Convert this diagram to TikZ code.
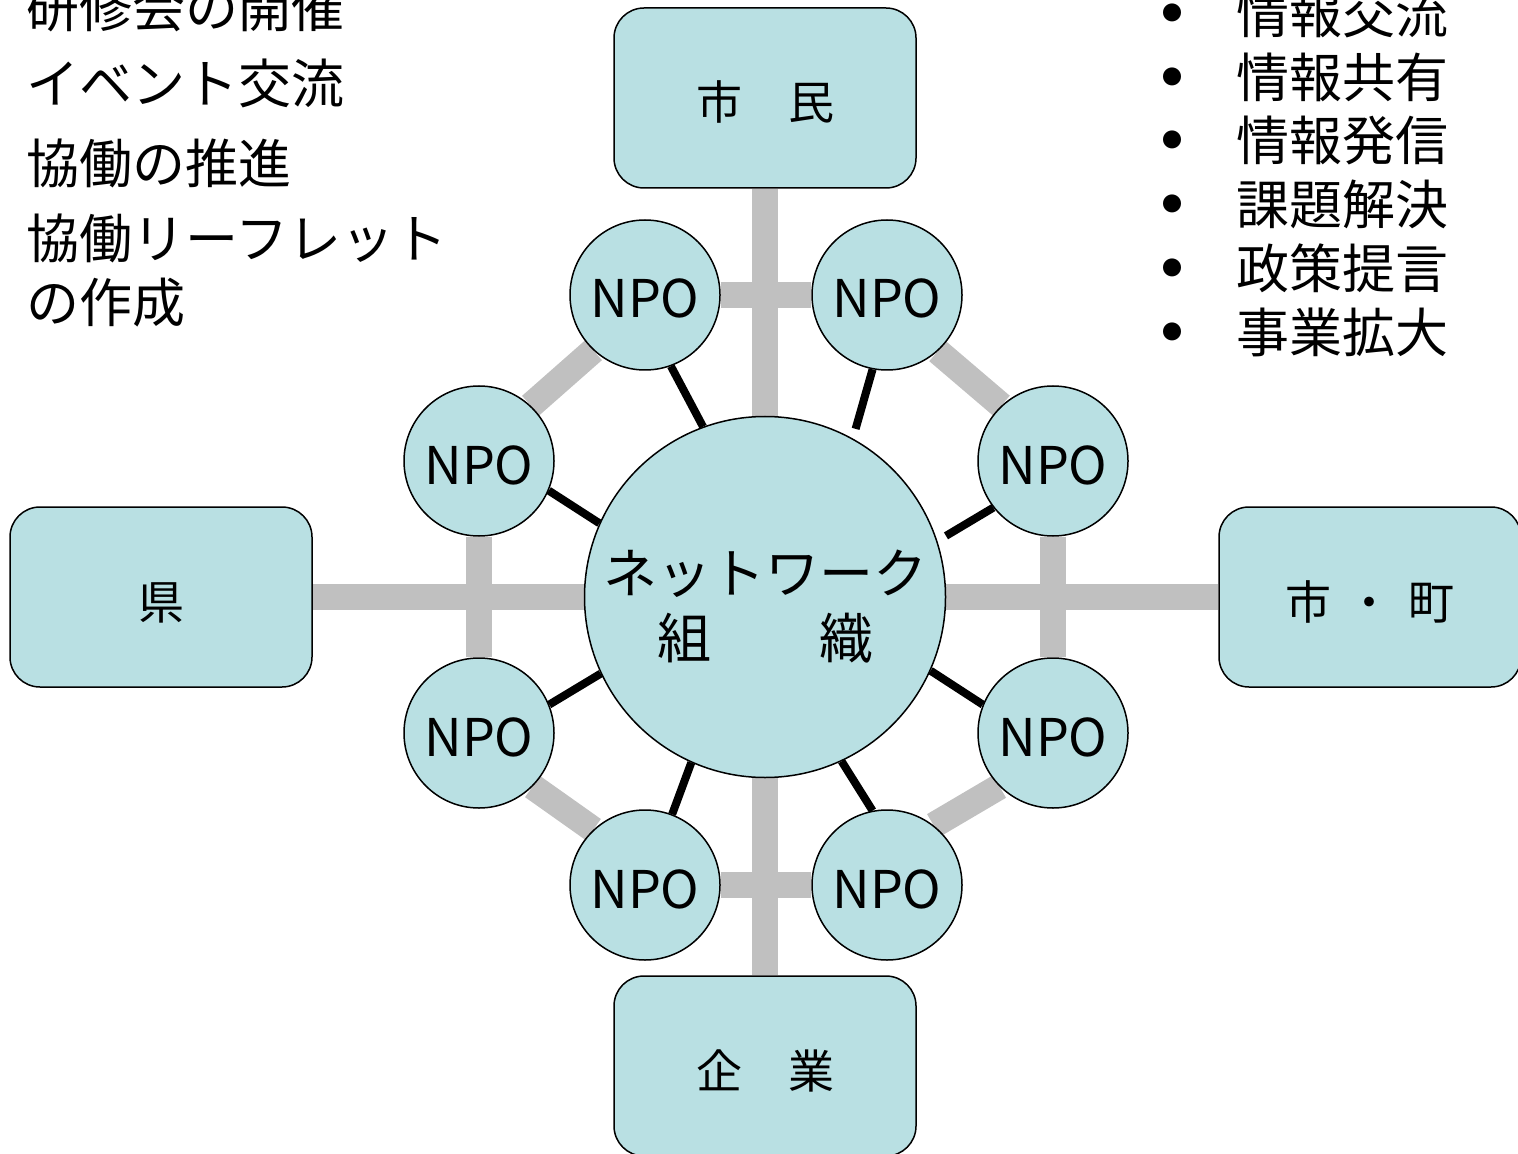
\documentclass[tikz,border=0pt]{standalone}
\usepackage{fontspec}
\setmainfont{Noto Sans CJK JP}
\usetikzlibrary{backgrounds}
\definecolor{paleblue}{RGB}{185,224,227}
\definecolor{linkgray}{RGB}{192,192,192}
\tikzset{
  npo/.style={circle, draw, fill=paleblue, line width=0.75pt, minimum size=75pt, inner sep=0pt, text height=23pt, text depth=0pt, font=\fontsize{26}{30}\selectfont},
  hub/.style={circle, draw, fill=paleblue, line width=0.75pt, minimum size=180.5pt, inner sep=0pt, align=center, font=\fontsize{27}{32.5}\selectfont},
  party/.style={rectangle, rounded corners=15pt, draw, fill=paleblue, line width=0.75pt, minimum width=151pt, minimum height=90pt, text height=22pt, text depth=0pt, font=\fontsize{23}{28}\selectfont},
  memo/.style={anchor=west, inner sep=0pt, font=\fontsize{26.5}{32}\selectfont},
  bulletmark/.style={inner sep=0pt, font=\fontsize{10}{12}\selectfont},
  tie/.style={draw=linkgray, line width=13pt},
  spoke/.style={draw, line width=4pt},
}

\begin{document}
\begin{tikzpicture}[x=0.5pt, y=-0.5pt]
        \useasboundingbox (0,0) rectangle (1518,1154);

        \node[hub]   (hub)    at (765,597)  {\rule{0pt}{31pt}ネットワーク\\組　　織};
        \node[party] (shimin) at (765,98)   {市　民};
        \node[party] (kigyo)  at (765,1066) {企　業};
        \node[party] (ken)    at (161,597)  {県};
        \node[party] (shicho) at (1370,597) {市\hspace{8pt}・\hspace{8pt}町};

        \node[npo] (npoTL) at (645,295)  {NPO};
        \node[npo] (npoTR) at (887,295)  {NPO};
        \node[npo] (npoLU) at (479,461)  {NPO};
        \node[npo] (npoRU) at (1053,461) {NPO};
        \node[npo] (npoLL) at (479,733)  {NPO};
        \node[npo] (npoRL) at (1053,733) {NPO};
        \node[npo] (npoBL) at (645,885)  {NPO};
        \node[npo] (npoBR) at (887,885)  {NPO};

        % gray ties behind the circles
        \begin{pgfonlayer}{background}
          \draw[tie] (shimin) -- (hub);
          \draw[tie] (hub) -- (kigyo);
          \draw[tie] (ken) -- (hub);
          \draw[tie] (hub) -- (shicho);
          \draw[tie] (npoTL) -- (npoTR);
          \draw[tie] (npoBL) -- (npoBR);
          \draw[tie] (npoLU) -- (npoLL);
          \draw[tie] (npoRU) -- (npoRL);
          \draw[tie] (npoTL.227) -- (npoLU.47);
          \draw[tie] (npoTR.-48) -- (npoRU.133);
          \draw[tie] (npoLL.-45) -- (npoBL.133);
          \draw[tie] (npoRL.225) -- (npoBR.52);
        \end{pgfonlayer}

        \draw[spoke] (npoTL.-70) -- (hub.110);
        \draw[spoke, shorten >=5pt] (npoTR.259) -- (hub.61);
        \draw[spoke] (npoLU.-23) -- (hub.156);
        \draw[spoke, shorten >=5pt] (npoRU.218) -- (hub.18);
        \draw[spoke] (npoLL.22) -- (hub.205);
        \draw[spoke] (npoRL.158) -- (hub.-24);
        \draw[spoke] (npoBL.69) -- (hub.246);
        \draw[spoke] (npoBR.101) -- (hub.-65);

        \node[memo] (act1) at (26,7)   {研修会の開催};
        \node[memo] (act2) at (26,83)  {イベント交流};
        \node[memo] (act3) at (26,163) {協働の推進};
        \node[memo] (act4) at (26,238) {協働リーフレット};
        \node[memo] (act5) at (26,303) {の作成};

        \node[bulletmark] (dot1) at (1172,13)  {●};
        \node[bulletmark] (dot2) at (1172,77)  {●};
        \node[bulletmark] (dot3) at (1172,140) {●};
        \node[bulletmark] (dot4) at (1172,204) {●};
        \node[bulletmark] (dot5) at (1172,268) {●};
        \node[bulletmark] (dot6) at (1172,332) {●};
        \node[memo] (goal1) at (1236,13)  {情報交流};
        \node[memo] (goal2) at (1236,77)  {情報共有};
        \node[memo] (goal3) at (1236,140) {情報発信};
        \node[memo] (goal4) at (1236,204) {課題解決};
        \node[memo] (goal5) at (1236,268) {政策提言};
        \node[memo] (goal6) at (1236,332) {事業拡大};
      \end{tikzpicture}
\end{document}
